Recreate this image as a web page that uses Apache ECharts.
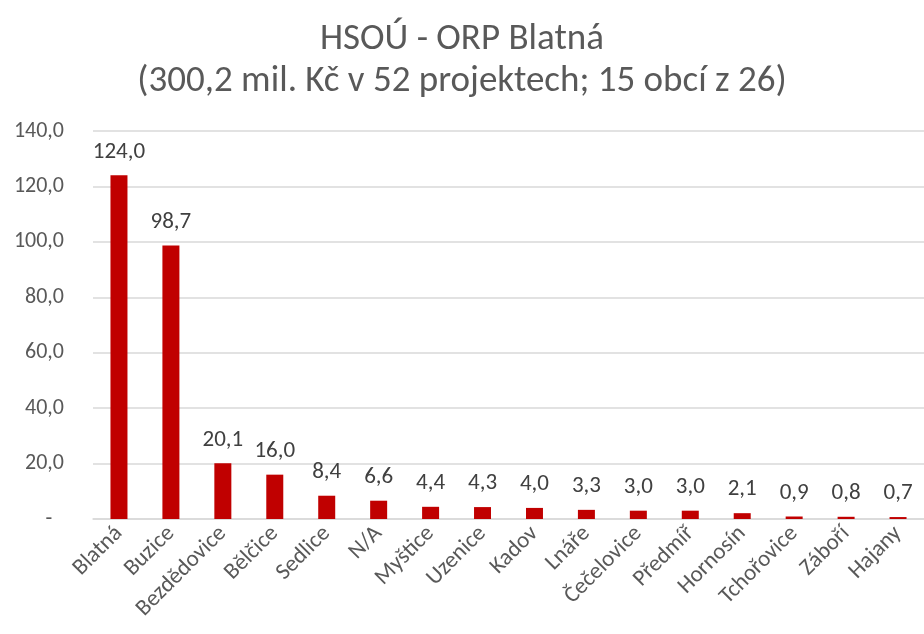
<!DOCTYPE html>
<html>
<head>
<meta charset="utf-8">
<script src="https://cdn.jsdelivr.net/npm/echarts@6/dist/echarts.min.js"></script>
<style>
  html, body { margin: 0; padding: 0; background: #fff; }
  #chart { width: 924px; height: 634px; }
</style>
</head>
<body>
<div id="chart"></div>
<script>
// obce a objem projektů (mil. Kč)
var obce = ['Blatná', 'Buzice', 'Bezdědovice', 'Bělčice', 'Sedlice', 'N/A', 'Myštice', 'Uzenice',
  'Kadov', 'Lnáře', 'Čečelovice', 'Předmíř', 'Hornosín', 'Tchořovice', 'Záboří', 'Hajany'];
var objem = [124.0, 98.7, 20.1, 16.0, 8.4, 6.6, 4.4, 4.3, 4.0, 3.3, 3.0, 3.0, 2.1, 0.9, 0.8, 0.7];

var titulek = 'HSOÚ - ORP Blatná';
var podtitulek = '(300,2 mil. Kč v 52 projektech; 15 obcí z 26)';

var font = 'Carlito, Lato, sans-serif';

function cz(v) {
  return v.toFixed(1).replace('.', ',');
}

var chart = echarts.init(document.getElementById('chart'));

chart.setOption({
  animation: false,
  title: {
    text: titulek + '\n' + podtitulek,
    left: 'center',
    top: 14,
    textStyle: {
      fontFamily: font,
      fontSize: 37,
      fontWeight: 'normal',
      color: '#595959',
      lineHeight: 42
    }
  },
  grid: {
    left: 93,
    right: 0,
    top: 131,
    bottom: 115
  },
  xAxis: {
    type: 'category',
    data: obce,
    axisLine: { lineStyle: { color: '#D9D9D9', width: 1.5 } },
    axisTick: { show: false },
    axisLabel: {
      interval: 0,
      rotate: 45,
      margin: 11,
      fontFamily: font,
      fontSize: 23,
      color: '#595959'
    }
  },
  yAxis: {
    type: 'value',
    min: 0,
    max: 140,
    interval: 20,
    axisLine: { show: false },
    axisTick: { show: false },
    splitLine: { lineStyle: { color: '#D9D9D9', width: 1.5 } },
    axisLabel: {
      margin: 29,
      fontFamily: font,
      fontSize: 22,
      color: '#595959',
      formatter: function (v) {
        return v === 0 ? '-\u2007' : cz(v);
      }
    }
  },
  series: [{
    type: 'bar',
    data: objem,
    barWidth: 17,
    itemStyle: { color: '#C00000' },
    label: {
      show: true,
      position: 'top',
      distance: 12,
      fontFamily: font,
      fontSize: 23,
      color: '#404040',
      formatter: function (p) { return cz(p.value); }
    }
  }]
});
</script>
</body>
</html>
